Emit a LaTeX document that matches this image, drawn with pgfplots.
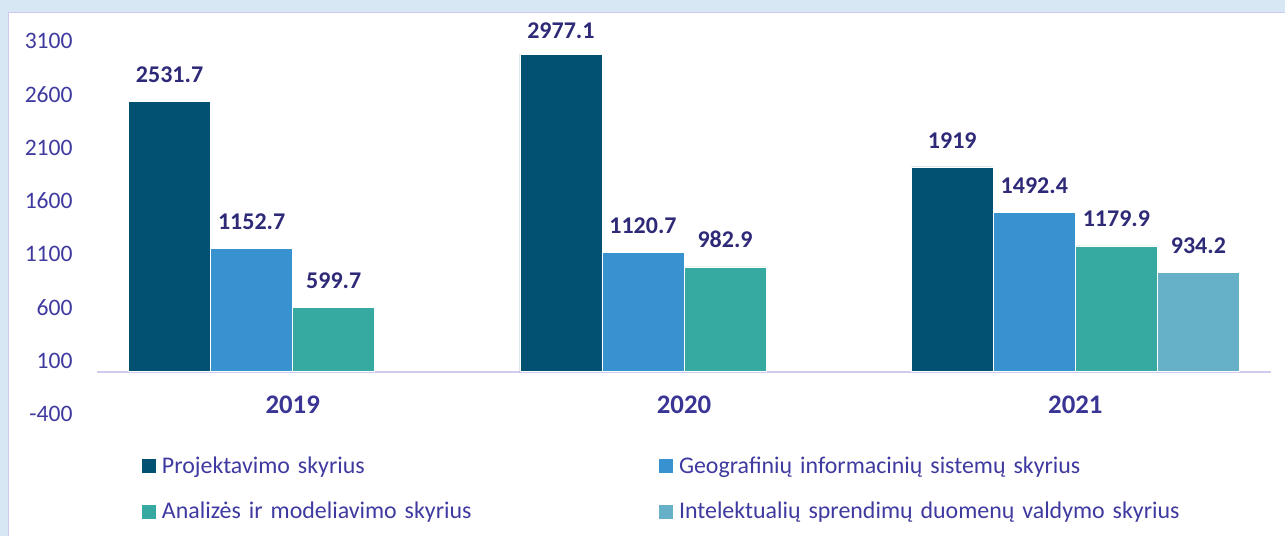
\documentclass[border=0pt]{standalone}
\usepackage{fontspec}
\setmainfont{Carlito}
\usepackage{pgfplots}
\pgfplotsset{compat=1.18}
\definecolor{bgblue}{HTML}{D7E8F4}
\definecolor{frame}{HTML}{CDC9EE}
\definecolor{cA}{HTML}{025072}
\definecolor{cB}{HTML}{3892CF}
\definecolor{cC}{HTML}{36AAA1}
\definecolor{cD}{HTML}{66B1C8}
\definecolor{tick}{HTML}{3F3AA0}
\definecolor{val}{HTML}{2E2A78}
\definecolor{yr}{HTML}{3A3594}
\definecolor{axl}{HTML}{CFCCEB}
\begin{document}
\begin{tikzpicture}
\useasboundingbox (0,0) rectangle (642.5pt,268pt);
\fill[bgblue] (0,0) rectangle (642.5pt,268pt);
\fill[white] (4.25pt,0) rectangle (642.5pt,261.75pt);
\draw[frame, line width=0.7pt] (4.25pt,0) -- (4.25pt,261.75pt) -- (642.5pt,261.75pt);
\begin{axis}[
  at={(48.5pt,60.85pt)}, anchor=south west,
  scale only axis, width=587pt, height=186.65pt,
  xmin=-0.5, xmax=2.5, ymin=-400, ymax=3100,
  ytick={-400,100,...,3100},
  xtick={0,1,2}, xticklabels={2019,2020,2021},
  axis line style={draw=none},
  major tick length=0pt,
  tick style={draw=none},
  /pgf/number format/assume math mode=true,
  /pgf/number format/1000 sep={},
  yticklabel style={anchor=east, inner sep=0pt, xshift=-12pt, font=\fontsize{11.8pt}{14pt}\selectfont, text=tick},
  xticklabel style={anchor=center, inner sep=0pt, yshift=4.65pt, font=\fontsize{13.4pt}{16pt}\selectfont\bfseries, text=yr},
  ybar=0pt, bar width=0.2097,
  every axis plot/.append style={draw=white, line width=0.25pt},
  nodes near coords,
  visualization depends on={y \as \rawy},
  every node near coord/.append style={anchor=south, inner sep=0pt,
    yshift={(\rawy>2900)?7.4:9.2},
    font=\fontsize{12pt}{14pt}\selectfont\bfseries, text=val,
    /pgf/number format/fixed, /pgf/number format/precision=1,
    /pgf/number format/1000 sep={}, /pgf/number format/assume math mode=true},
  legend columns=2,
  legend image code/.code={\fill[#1, draw=none] (0pt,-3.5pt) rectangle (7pt,3.5pt);},
  legend style={at={(0.03833,-0.1101)}, anchor=north west, draw=none, fill=none,
    inner sep=0pt, outer sep=0pt, row sep=12.15pt,
    /tikz/column 1/.style={column sep=3pt},
    /tikz/column 3/.style={column sep=3pt},
    /tikz/column 4/.style={nodes={text width=290pt}},
    nodes={inner sep=0pt, text height=9pt, text depth=1.6pt, text width=248.5pt,
      font=\fontsize{11.95pt}{14pt}\selectfont, text=tick}},
  legend cell align=left,
]
\draw[axl, line width=1pt] (axis cs:-0.5,0) -- (axis cs:2.5,0);
\addplot[fill=cA] coordinates {(0,2531.7) (1,2977.1) (2,1919)};
\addplot[fill=cB] coordinates {(0,1152.7) (1,1120.7) (2,1492.4)};
\addplot[fill=cC] coordinates {(0,599.7) (1,982.9) (2,1179.9)};
\addplot[fill=cD] coordinates {(2,934.2)};
\legend{Projektavimo skyrius, Geografinių informacinių sistemų skyrius, Analizės ir modeliavimo skyrius, Intelektualių sprendimų duomenų valdymo skyrius}
\end{axis}
\end{tikzpicture}
\end{document}
